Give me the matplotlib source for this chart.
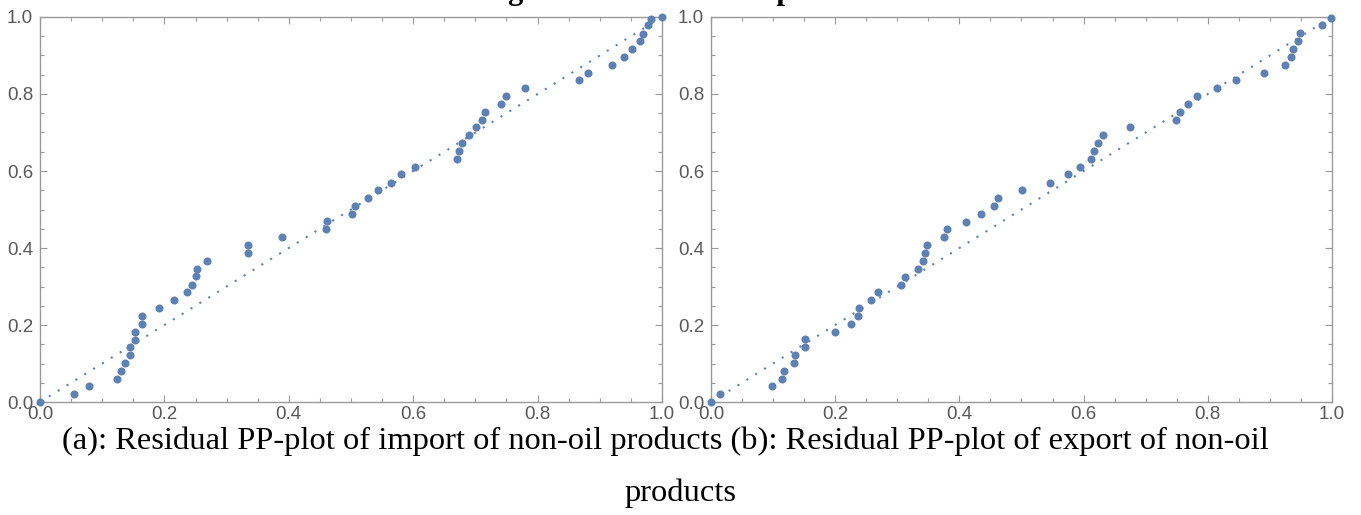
import matplotlib
matplotlib.use("Agg")
import matplotlib.pyplot as plt
from matplotlib.ticker import MultipleLocator

# --- data ----------------------------------------------------------------
# (a) import of non-oil products
imp_x = [0.0, 0.054, 0.079, 0.123, 0.131, 0.136, 0.145, 0.145, 0.152, 0.153,
         0.164, 0.164, 0.191, 0.215, 0.237, 0.244, 0.250, 0.252, 0.269, 0.334,
         0.334, 0.389, 0.459, 0.461, 0.502, 0.507, 0.527, 0.543, 0.564, 0.581,
         0.603, 0.671, 0.674, 0.678, 0.689, 0.701, 0.711, 0.715, 0.741, 0.750,
         0.780, 0.866, 0.881, 0.920, 0.939, 0.951, 0.965, 0.969, 0.978, 0.983,
         1.0]
imp_y = [0.0, 0.021, 0.041, 0.060, 0.081, 0.101, 0.122, 0.142, 0.162, 0.183,
         0.203, 0.223, 0.244, 0.265, 0.285, 0.305, 0.326, 0.346, 0.366, 0.387,
         0.408, 0.428, 0.449, 0.469, 0.489, 0.510, 0.529, 0.551, 0.570, 0.591,
         0.611, 0.631, 0.652, 0.672, 0.693, 0.714, 0.733, 0.754, 0.774, 0.795,
         0.816, 0.836, 0.855, 0.876, 0.897, 0.917, 0.938, 0.957, 0.978, 0.996,
         1.0]

# (b) export of non-oil products
exp_x = [0.0, 0.015, 0.099, 0.114, 0.117, 0.134, 0.136, 0.152, 0.152, 0.200,
         0.226, 0.236, 0.239, 0.257, 0.269, 0.306, 0.312, 0.334, 0.342, 0.345,
         0.348, 0.376, 0.380, 0.411, 0.435, 0.455, 0.462, 0.501, 0.546, 0.575,
         0.595, 0.612, 0.617, 0.623, 0.631, 0.674, 0.748, 0.755, 0.768, 0.783,
         0.815, 0.845, 0.891, 0.925, 0.934, 0.937, 0.945, 0.948, 0.984, 0.998]
exp_y = [0.0, 0.021, 0.041, 0.061, 0.081, 0.101, 0.122, 0.142, 0.163, 0.183,
         0.203, 0.223, 0.244, 0.264, 0.285, 0.305, 0.325, 0.345, 0.366, 0.387,
         0.408, 0.428, 0.449, 0.468, 0.489, 0.510, 0.529, 0.551, 0.570, 0.591,
         0.611, 0.631, 0.652, 0.672, 0.693, 0.713, 0.733, 0.754, 0.774, 0.795,
         0.815, 0.836, 0.855, 0.876, 0.897, 0.917, 0.938, 0.958, 0.978, 0.998]

ref_line = [0.0, 1.0]
tick_vals = [0.0, 0.2, 0.4, 0.6, 0.8, 1.0]

title_txt = "Figure 5: Residual PP-plots"
caption_1 = ("(a): Residual PP-plot of import of non-oil products "
             "(b): Residual PP-plot of export of non-oil")
caption_2 = "products"

# --- style -----------------------------------------------------------------
BLUE = "#5e81b5"
FRAME = "#9a9a9a"
LABEL = "#595959"
plt.rcParams["font.family"] = ["Liberation Sans", "DejaVu Sans"]

fig = plt.figure(figsize=(13.61, 5.15), dpi=100)
ax1 = fig.add_axes([0.0294, 0.2194, 0.4570, 0.7476])
ax2 = fig.add_axes([0.5224, 0.2194, 0.4563, 0.7476])


def style_axes(ax):
    ax.set_xlim(0, 1)
    ax.set_ylim(0, 1)
    ax.set_xticks(tick_vals)
    ax.set_yticks(tick_vals)
    ax.set_xticklabels(["%.1f" % v for v in tick_vals])
    ax.set_yticklabels(["%.1f" % v for v in tick_vals])
    ax.xaxis.set_minor_locator(MultipleLocator(0.05))
    ax.yaxis.set_minor_locator(MultipleLocator(0.05))
    for s in ax.spines.values():
        s.set_color(FRAME)
        s.set_linewidth(1.0)
    ax.tick_params(which="both", direction="in", top=True, right=True,
                   color=FRAME, width=0.8)
    ax.tick_params(which="major", length=5)
    ax.tick_params(which="minor", length=3)
    ax.tick_params(axis="x", which="major", labelsize=13.5, labelcolor=LABEL, pad=3)
    ax.tick_params(axis="y", which="major", labelsize=13.5, labelcolor=LABEL, pad=5)


for ax, xs, ys in [(ax1, imp_x, imp_y), (ax2, exp_x, exp_y)]:
    style_axes(ax)
    ax.plot(ref_line, ref_line, color=BLUE, lw=1.5, linestyle=(0, (1, 4)),
            zorder=2)
    ax.plot(xs, ys, "o", color=BLUE, markersize=5.8, markeredgewidth=0,
            clip_on=False, zorder=3)

# figure title, cut off by the top of the image as in the source
fig.text(0.485, 1.0 + 1.0 / 515, title_txt, ha="center", va="baseline",
         fontsize=22, fontweight="bold", family=["Liberation Serif"])

fig.text(0.489, 1 - 449 / 515, caption_1, ha="center", va="baseline",
         fontsize=23.4, family=["Liberation Serif"])
fig.text(0.500, 1 - 501 / 515, caption_2, ha="center", va="baseline",
         fontsize=23.4, family=["Liberation Serif"])

fig.savefig("out.png", dpi=100)
